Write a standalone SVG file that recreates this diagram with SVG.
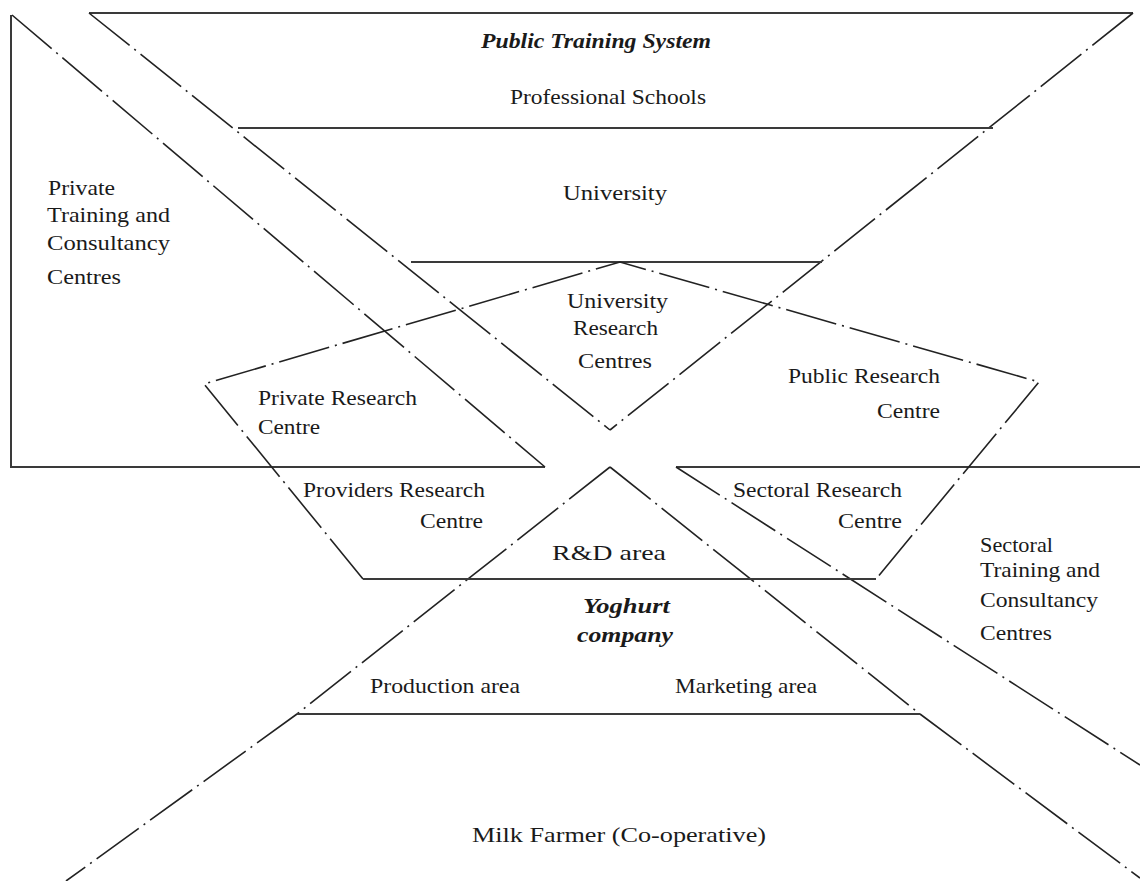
<svg xmlns="http://www.w3.org/2000/svg" width="1140" height="881" viewBox="0 0 1140 881">
  <style>
    .solid { stroke: #3a3a3a; stroke-width: 2; fill: none; }
    .dd { stroke: #222; stroke-width: 1.6; fill: none; stroke-dasharray: 52 6 2 6; }
    text { font-family: "Liberation Serif", "Times New Roman", serif; font-size: 21px; fill: #1a1a1a; }
    .bi { font-weight: bold; font-style: italic; }
  </style>

  <!-- framework lines of the crossed bands -->
  <g id="connectors">
    <!-- top region: Public Training System -->
    <line class="solid" x1="89" y1="13" x2="1133" y2="13"/>
    <line class="dd" x1="89" y1="13" x2="610" y2="430"/>
    <line class="dd" x1="1133" y1="13" x2="610" y2="430"/>
    <line class="solid" x1="238" y1="128" x2="993" y2="128"/>
    <line class="solid" x1="411" y1="262" x2="822" y2="262"/>

    <!-- left region: private training -->
    <polyline class="solid" points="11,15 11,467 545,467"/>
    <line class="dd" x1="12" y1="15" x2="545" y2="467"/>

    <!-- right region: sectoral training -->
    <line class="solid" x1="676" y1="467" x2="1140" y2="467"/>
    <line class="dd" x1="676" y1="467" x2="1140" y2="765"/>

    <!-- bottom region: company and farmer -->
    <polyline class="dd" points="610,467 297,714 66,881"/>
    <polyline class="dd" points="610,467 920,714 1140,878"/>
    <line class="solid" x1="297" y1="714" x2="920" y2="714"/>

    <!-- research pentagon -->
    <polyline class="dd" points="363,579 204,384 620,262 1039,382 876,579"/>
    <line class="solid" x1="363" y1="579" x2="876" y2="579"/>
  </g>

  <g id="public-training">
    <text class="bi" x="481" y="48" textLength="230" lengthAdjust="spacingAndGlyphs">Public Training System</text>
    <text x="510" y="104" textLength="196" lengthAdjust="spacingAndGlyphs">Professional Schools</text>
  </g>
  <g id="university">
    <text x="563" y="200" textLength="104" lengthAdjust="spacingAndGlyphs">University</text>
  </g>
  <g id="private-training">
    <text x="48" y="195" textLength="67" lengthAdjust="spacingAndGlyphs">Private</text>
    <text x="47" y="222" textLength="123" lengthAdjust="spacingAndGlyphs">Training and</text>
    <text x="47" y="250" textLength="123" lengthAdjust="spacingAndGlyphs">Consultancy</text>
    <text x="47" y="284" textLength="74" lengthAdjust="spacingAndGlyphs">Centres</text>
  </g>
  <g id="university-research">
    <text x="567" y="308" textLength="101" lengthAdjust="spacingAndGlyphs">University</text>
    <text x="573" y="335" textLength="85" lengthAdjust="spacingAndGlyphs">Research</text>
    <text x="578" y="368" textLength="74" lengthAdjust="spacingAndGlyphs">Centres</text>
  </g>
  <g id="private-research">
    <text x="258" y="405" textLength="159" lengthAdjust="spacingAndGlyphs">Private Research</text>
    <text x="258" y="434" textLength="62" lengthAdjust="spacingAndGlyphs">Centre</text>
  </g>
  <g id="public-research">
    <text x="788" y="383" textLength="152" lengthAdjust="spacingAndGlyphs">Public Research</text>
    <text x="877" y="418" textLength="63" lengthAdjust="spacingAndGlyphs">Centre</text>
  </g>
  <g id="providers-research">
    <text x="303" y="497" textLength="182" lengthAdjust="spacingAndGlyphs">Providers Research</text>
    <text x="420" y="528" textLength="63" lengthAdjust="spacingAndGlyphs">Centre</text>
  </g>
  <g id="sectoral-research">
    <text x="733" y="497" textLength="169" lengthAdjust="spacingAndGlyphs">Sectoral Research</text>
    <text x="838" y="528" textLength="64" lengthAdjust="spacingAndGlyphs">Centre</text>
  </g>
  <g id="rd-area">
    <text x="552" y="560" textLength="114" lengthAdjust="spacingAndGlyphs">R&amp;D area</text>
  </g>
  <g id="sectoral-training">
    <text x="980" y="552" textLength="73" lengthAdjust="spacingAndGlyphs">Sectoral</text>
    <text x="980" y="577" textLength="120" lengthAdjust="spacingAndGlyphs">Training and</text>
    <text x="980" y="607" textLength="118" lengthAdjust="spacingAndGlyphs">Consultancy</text>
    <text x="980" y="640" textLength="72" lengthAdjust="spacingAndGlyphs">Centres</text>
  </g>
  <g id="yoghurt-company">
    <text class="bi" x="583" y="613" textLength="87" lengthAdjust="spacingAndGlyphs">Yoghurt</text>
    <text class="bi" x="577" y="642" textLength="96" lengthAdjust="spacingAndGlyphs">company</text>
    <text x="370" y="693" textLength="150" lengthAdjust="spacingAndGlyphs">Production area</text>
    <text x="675" y="693" textLength="142" lengthAdjust="spacingAndGlyphs">Marketing area</text>
  </g>
  <g id="milk-farmer">
    <text x="472" y="842" textLength="294" lengthAdjust="spacingAndGlyphs">Milk Farmer (Co-operative)</text>
  </g>
</svg>
